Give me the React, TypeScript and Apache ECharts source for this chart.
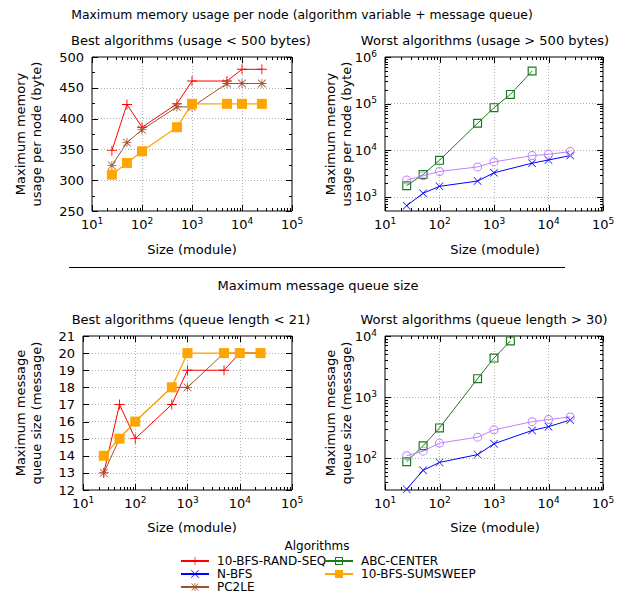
import React, { useEffect, useRef } from 'react';
import * as echarts from 'echarts';

// ---- data ----
const sizes = [25, 50, 100, 500, 1000, 5000, 10000, 25000];
const abcSizesMem = [25, 50, 100, 500, 1000, 2000, 5000];
const abcSizesQueue = [25, 50, 100, 500, 1000, 2000];

const memRandSeq = [348, 423, 386, 424, 461, 461, 480, 480];
const memPc2le = [324, 361, 382, 419, 419, 457, 457, 457];
const memSumsweep = [309, 328, 347, 386, 424, 424, 424, 424];
const memAbc = [1740, 3040, 6100, 38000, 82000, 158000, 500000];
const memPurple = [2300, 2840, 3520, 4400, 5640, 7700, 8200, 9400];
const memNbfs = [650, 1200, 1690, 2190, 3300, 5300, 6200, 7700];

const queueRandSeq = [13, 17, 15, 17, 19, 19, 20, 20];
const queuePc2le = [13, 15, 16, 18, 18, 20, 20, 20];
const queueSumsweep = [14, 15, 16, 18, 20, 20, 20, 20];
const queueAbc = [87, 159, 312, 2000, 4350, 8300];
const queuePurple = [109, 130, 176, 220, 290, 395, 428, 473];
const queueNbfs = [31, 63, 85, 114, 172, 283, 327, 421];

const legendCol1 = ['10-BFS-RAND-SEQ', 'N-BFS', 'PC2LE'];
const legendCol2 = ['ABC-CENTER', '10-BFS-SUMSWEEP'];

// ---- helpers ----
const FONT = '"DejaVu Sans", sans-serif';
const pairs = (xs: number[], ys: number[]) => xs.map((x, i) => [x, ys[i]]);

function logTicks(fromExp: number, toExp: number) {
  const major: number[] = [];
  const minor: number[] = [];
  for (let e = fromExp; e <= toExp; e++) {
    major.push(Math.pow(10, e));
    if (e < toExp) for (let k = 2; k <= 9; k++) minor.push(k * Math.pow(10, e));
  }
  return { major, minor };
}

const PLUS = 'path://M4.55,0 H5.45 V4.55 H10 V5.45 H5.45 V10 H4.55 V5.45 H0 V4.55 H4.55 Z';
const CROSS = 'path://M0.6,0 L5,4.4 L9.4,0 L10,0.6 L5.6,5 L10,9.4 L9.4,10 L5,5.6 L0.6,10 L0,9.4 L4.4,5 L0,0.6 Z';
const STAR = 'path://M4.55,0 H5.45 V4.55 H10 V5.45 H5.45 V10 H4.55 V5.45 H0 V4.55 H4.55 Z M1,0.4 L5,4.4 L9,0.4 L9.6,1 L5.6,5 L9.6,9 L9,9.6 L5,5.6 L1,9.6 L0.4,9 L4.4,5 L0.4,1 Z';
const SQUARE_RING = 'path://M0,0 H10 V10 H0 Z M1.3,1.3 V8.7 H8.7 V1.3 Z';
const CIRCLE_RING = 'path://M5,0 A5,5 0 1,1 5,10 A5,5 0 1,1 5,0 Z M5,1.1 A3.9,3.9 0 1,0 5,8.9 A3.9,3.9 0 1,0 5,1.1 Z';

const C_RED = '#ff0000';
const C_BLUE = '#0000ff';
const C_BROWN = '#a0522d';
const C_GREEN = '#1a7a1a';
const C_ORANGE = '#ffa500';
const C_PURPLE = '#c080ff';

function supFmt(v: number) {
  return '10{s|' + Math.round(Math.log10(v)) + '}';
}
const supRich = {
  s: { fontSize: 9, fontFamily: FONT, color: '#000', verticalAlign: 'bottom', padding: [0, 0, 7, 0] },
};

function xTickSeries(grid: number, yRef: number, major: number[], minor: number[]) {
  return {
    type: 'custom',
    xAxisIndex: grid,
    yAxisIndex: grid,
    silent: true,
    clip: false,
    z: 10,
    encode: { x: 0, y: 1 },
    data: [...major.map((v) => [v, yRef, 1]), ...minor.map((v) => [v, yRef, 0])],
    renderItem: (params: any, api: any) => {
      const cs = params.coordSys;
      const x = Math.round(api.coord([api.value(0), yRef])[0]) + 0.5;
      const len = api.value(2) === 1 ? 6 : 3;
      const b = cs.y + cs.height;
      const st = { stroke: '#000', lineWidth: 1 };
      return {
        type: 'group',
        children: [
          { type: 'line', shape: { x1: x, y1: b, x2: x, y2: b - len }, style: st },
          { type: 'line', shape: { x1: x, y1: cs.y, x2: x, y2: cs.y + len }, style: st },
        ],
      };
    },
  };
}

function yTickSeries(grid: number, xRef: number, major: number[], minor: number[]) {
  return {
    type: 'custom',
    xAxisIndex: grid,
    yAxisIndex: grid,
    silent: true,
    clip: false,
    z: 10,
    encode: { x: 0, y: 1 },
    data: [...major.map((v) => [xRef, v, 1]), ...minor.map((v) => [xRef, v, 0])],
    renderItem: (params: any, api: any) => {
      const cs = params.coordSys;
      const y = Math.round(api.coord([xRef, api.value(1)])[1]) + 0.5;
      const len = api.value(2) === 1 ? 6 : 3;
      const r = cs.x + cs.width;
      const st = { stroke: '#000', lineWidth: 1 };
      return {
        type: 'group',
        children: [
          { type: 'line', shape: { x1: cs.x, y1: y, x2: cs.x + len, y2: y }, style: st },
          { type: 'line', shape: { x1: r, y1: y, x2: r - len, y2: y }, style: st },
        ],
      };
    },
  };
}

function lineSeries(name: string, grid: number, data: number[][], color: string, symbol: string, symbolSize: number, extra: any = {}) {
  return {
    type: 'line',
    name,
    xAxisIndex: grid,
    yAxisIndex: grid,
    data,
    symbol,
    symbolSize,
    showSymbol: true,
    showAllSymbol: true,
    lineStyle: { color, width: 1 },
    itemStyle: { color, borderColor: color, borderWidth: 0 },
    z: 5,
    ...extra,
  };
}

function text(str: string, x: number, y: number, extra: any = {}) {
  return {
    type: 'text',
    x,
    y,
    silent: true,
    style: {
      text: str,
      fontSize: 13,
      fontFamily: FONT,
      fill: '#000',
      align: 'center',
      verticalAlign: 'middle',
      ...extra,
    },
  };
}

function rotText(str: string, x: number, y: number) {
  return {
    type: 'text',
    x,
    y,
    rotation: Math.PI / 2,
    silent: true,
    style: {
      text: str,
      fontSize: 13,
      fontFamily: FONT,
      fill: '#000',
      align: 'center',
      verticalAlign: 'middle',
      lineHeight: 16,
    },
  };
}

export default function App() {
  const ref = useRef<HTMLDivElement>(null);

  useEffect(() => {
    if (!ref.current) return;
    const chart = echarts.init(ref.current, undefined, { renderer: 'svg' });

    const grids = [
      { left: 92, top: 57, width: 200, height: 154 },
      { left: 385, top: 57, width: 218, height: 154 },
      { left: 83, top: 336, width: 209, height: 154 },
      { left: 385, top: 336, width: 218, height: 154 },
    ].map((g) => ({ ...g, show: true, borderColor: '#000', borderWidth: 1, backgroundColor: 'transparent' }));

    const splitLine = {
      show: true,
      showMinLine: false,
      showMaxLine: false,
      lineStyle: { color: '#b0b0b0', type: [1, 2], width: 1 },
    };

    const xAxes = [0, 1, 2, 3].map((i) => ({
      type: 'log',
      logBase: 10,
      gridIndex: i,
      min: 10,
      max: 100000,
      splitNumber: 4,
      axisLine: { show: false },
      axisTick: { show: false },
      splitLine,
      axisLabel: { formatter: supFmt, rich: supRich, margin: 5, fontSize: 13, fontFamily: FONT, color: '#000' },
    }));

    const valLabel = { margin: 8, fontSize: 13, fontFamily: FONT, color: '#000' };
    const logLabel = { ...valLabel, formatter: supFmt, rich: supRich, showMinLabel: false };

    const yAxes = [
      { type: 'value', gridIndex: 0, min: 250, max: 500, interval: 50, axisLabel: valLabel },
      { type: 'log', logBase: 10, gridIndex: 1, min: 500, max: 1000000, splitNumber: 3, axisLabel: logLabel },
      { type: 'value', gridIndex: 2, min: 12, max: 21, interval: 1, axisLabel: valLabel },
      { type: 'log', logBase: 10, gridIndex: 3, min: 30, max: 10000, splitNumber: 3, axisLabel: logLabel },
    ].map((a) => ({ ...a, axisLine: { show: false }, axisTick: { show: false }, splitLine }));

    const xt = logTicks(1, 5);
    const tlMajor = [250, 300, 350, 400, 450, 500];
    const tlMinor = [275, 325, 375, 425, 475];
    const trTicks = logTicks(3, 6);
    const trMinorLow = [600, 700, 800, 900];
    const blMajor = [12, 13, 14, 15, 16, 17, 18, 19, 20, 21];
    const brTicks = logTicks(2, 4);
    const brMinorLow = [40, 50, 60, 70, 80, 90];

    const series: any[] = [
      // top-left
      lineSeries('10-BFS-RAND-SEQ', 0, pairs(sizes, memRandSeq), C_RED, PLUS, 10),
      lineSeries('PC2LE', 0, pairs(sizes, memPc2le), C_BROWN, STAR, 9),
      lineSeries('10-BFS-SUMSWEEP', 0, pairs(sizes, memSumsweep), C_ORANGE, 'rect', 10, { lineStyle: { color: C_ORANGE, width: 1.3 } }),
      // top-right
      lineSeries('N-BFS', 1, pairs(sizes, memNbfs), C_BLUE, CROSS, 8),
      lineSeries('ABC-CENTER', 1, pairs(abcSizesMem, memAbc), C_GREEN, SQUARE_RING, 9),
      lineSeries('purple', 1, pairs(sizes, memPurple), C_PURPLE, CIRCLE_RING, 9),
      // bottom-left
      lineSeries('10-BFS-RAND-SEQ', 2, pairs(sizes, queueRandSeq), C_RED, PLUS, 10),
      lineSeries('PC2LE', 2, pairs(sizes, queuePc2le), C_BROWN, STAR, 9),
      lineSeries('10-BFS-SUMSWEEP', 2, pairs(sizes, queueSumsweep), C_ORANGE, 'rect', 10, { lineStyle: { color: C_ORANGE, width: 1.3 } }),
      // bottom-right
      lineSeries('N-BFS', 3, pairs(sizes, queueNbfs), C_BLUE, CROSS, 8),
      lineSeries('ABC-CENTER', 3, pairs(abcSizesQueue, queueAbc), C_GREEN, SQUARE_RING, 9),
      lineSeries('purple', 3, pairs(sizes, queuePurple), C_PURPLE, CIRCLE_RING, 9),
      // ticks
      xTickSeries(0, 300, xt.major, xt.minor),
      xTickSeries(1, 1000, xt.major, xt.minor),
      xTickSeries(2, 15, xt.major, xt.minor),
      xTickSeries(3, 100, xt.major, xt.minor),
      yTickSeries(0, 100, tlMajor, tlMinor),
      yTickSeries(1, 100, trTicks.major, [...trMinorLow, ...trTicks.minor]),
      yTickSeries(2, 100, blMajor, []),
      yTickSeries(3, 100, brTicks.major, [...brMinorLow, ...brTicks.minor]),
    ];

    const legendBase = {
      orient: 'vertical',
      padding: 0,
      itemWidth: 28,
      itemHeight: 10,
      itemGap: 0,
      selectedMode: false,
      textStyle: { fontSize: 12, fontFamily: FONT, color: '#000', lineHeight: 13, padding: [0, 0, 0, 3] },
    };

    chart.setOption({
      animation: false,
      backgroundColor: '#fff',
      grid: grids,
      xAxis: xAxes,
      yAxis: yAxes,
      legend: [
        { ...legendBase, data: legendCol1, left: 180, top: 554.5 },
        { ...legendBase, data: legendCol2, left: 324, top: 554.5 },
      ],
      series,
      graphic: [
        text('Maximum memory usage per node (algorithm variable + message queue)', 302, 14, { fontSize: 12.4 }),
        text('Best algorithms (usage < 500 bytes)', 191, 40),
        text('Worst algorithms (usage > 500 bytes)', 485, 40),
        text('Maximum message queue size', 318, 285),
        text('Best algorithms (queue length < 21)', 191, 319),
        text('Worst algorithms (queue length > 30)', 484, 319),
        text('Size (module)', 192, 249),
        text('Size (module)', 495, 249),
        text('Size (module)', 192, 527),
        text('Size (module)', 495, 527),
        text('Algorithms', 317, 546, { fontSize: 12 }),
        rotText('Maximum memory\nusage per node (byte)', 28.5, 134),
        rotText('Maximum memory\nusage per node (byte)', 338.5, 134),
        rotText('Maximum message\nqueue size (message)', 28.5, 413),
        rotText('Maximum message\nqueue size (message)', 338.5, 413),
        {
          type: 'line',
          silent: true,
          shape: { x1: 69, y1: 267.5, x2: 565, y2: 267.5 },
          style: { stroke: '#000', lineWidth: 1 },
        },
      ],
    });

    return () => chart.dispose();
  }, []);

  return <div ref={ref} style={{ position: 'fixed', left: 0, top: 0, width: 621, height: 594 }} />;
}
